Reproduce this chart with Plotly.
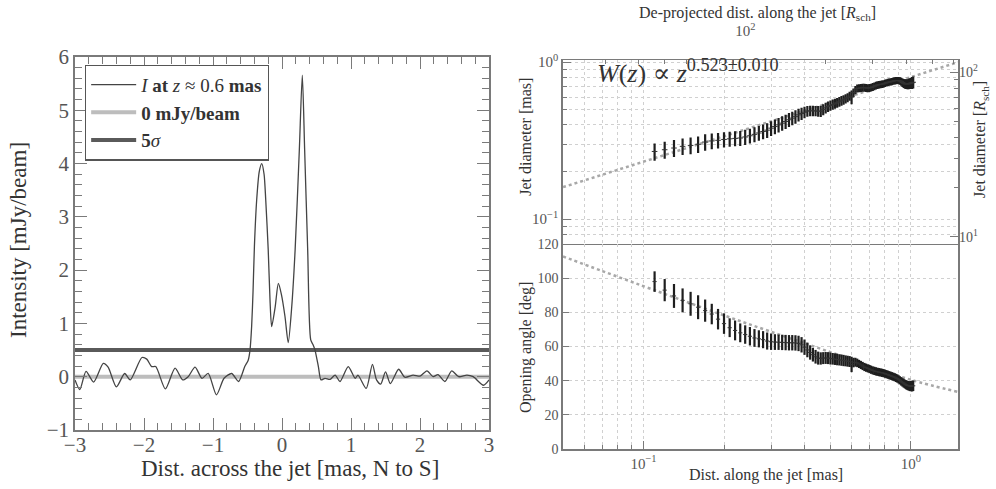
import plotly.graph_objects as go

SERIF = "Liberation Serif, DejaVu Serif, serif"

# ---------------- Left panel: intensity profile across the jet ----------------
prof_x = [-3.00, -2.93, -2.84, -2.73, -2.59, -2.52, -2.40, -2.28, -2.20, -2.03, -1.96, -1.89,
          -1.83, -1.69, -1.55, -1.44, -1.36, -1.26, -1.16, -1.07, -0.95, -0.84, -0.73, -0.63,
          -0.54, -0.49, -0.464, -0.44, -0.42, -0.40, -0.367, -0.33, -0.294, -0.26, -0.236,
          -0.20, -0.174, -0.15, -0.10, -0.053, -0.01, 0.043, 0.09, 0.14, 0.19, 0.251, 0.294,
          0.328, 0.372, 0.416, 0.45, 0.478, 0.527, 0.565, 0.623, 0.696, 0.77, 0.84, 0.96,
          1.06, 1.10, 1.22, 1.31, 1.37, 1.43, 1.50, 1.57, 1.69, 1.78, 1.90, 2.00, 2.10, 2.19,
          2.26, 2.36, 2.46, 2.56, 2.68, 2.77, 2.92, 3.00]
prof_i = [-0.06, -0.24, 0.10, -0.10, 0.25, 0.18, -0.19, 0.06, -0.06, 0.36, 0.33, 0.19,
          0.19, -0.23, 0.16, -0.06, 0.00, 0.18, -0.03, 0.06, -0.34, -0.03, 0.06, -0.09,
          0.19, 0.31, 0.50, 0.95, 1.60, 2.45, 3.32, 3.85, 4.00, 3.80, 3.32,
          2.38, 1.44, 0.94, 1.30, 1.75, 1.55, 1.13, 0.64, 1.30, 2.38, 4.26, 5.66,
          4.26, 2.38, 0.69, 0.60, 0.50, 0.19, -0.06, -0.03, -0.05, 0.03, -0.09, 0.19,
          -0.03, 0.03, -0.22, 0.23, -0.06, -0.14, 0.09, -0.13, 0.14, -0.01, 0.03, 0.01, 0.11, 0.00,
          0.04, -0.09, 0.11, 0.00, 0.03, 0.00, -0.16, -0.06]
zero_level = 0.0
five_sigma = 0.5
x_span = [-3, 3]

# ---------------- Right panels: jet width and opening angle ----------------
dist_mas = [0.11, 0.12, 0.13, 0.14, 0.15, 0.16, 0.17, 0.18, 0.19, 0.20,
            0.21, 0.22, 0.23, 0.24, 0.25, 0.26, 0.27, 0.28, 0.29, 0.30,
            0.31, 0.32, 0.33, 0.34, 0.35, 0.36, 0.37, 0.38, 0.39, 0.40,
            0.41, 0.42, 0.43, 0.44, 0.45, 0.46, 0.47, 0.48, 0.49, 0.50,
            0.51, 0.52, 0.53, 0.54, 0.55, 0.56, 0.57, 0.58, 0.59, 0.60,
            0.61, 0.62, 0.63, 0.64, 0.65, 0.66, 0.67, 0.68, 0.69, 0.70,
            0.71, 0.72, 0.73, 0.74, 0.75, 0.76, 0.77, 0.78, 0.79, 0.80,
            0.81, 0.82, 0.83, 0.84, 0.85, 0.86, 0.87, 0.88, 0.89, 0.90,
            0.91, 0.92, 0.93, 0.94, 0.95, 0.96, 0.97, 0.98, 0.99, 1.00,
            1.01, 1.02]
width_mas = [0.270, 0.277, 0.284, 0.291, 0.295, 0.300, 0.310, 0.315, 0.318, 0.322,
             0.325, 0.327, 0.329, 0.334, 0.340, 0.347, 0.354, 0.362, 0.369, 0.380,
             0.389, 0.399, 0.409, 0.419, 0.430, 0.440, 0.450, 0.462, 0.471, 0.480,
             0.488, 0.490, 0.490, 0.489, 0.488, 0.487, 0.500, 0.512, 0.522, 0.530,
             0.538, 0.545, 0.552, 0.560, 0.568, 0.576, 0.585, 0.595, 0.608, 0.600,
             0.640, 0.665, 0.680, 0.684, 0.686, 0.688, 0.688, 0.686, 0.684, 0.686,
             0.690, 0.696, 0.703, 0.710, 0.716, 0.720, 0.722, 0.724, 0.728, 0.734,
             0.740, 0.745, 0.748, 0.750, 0.754, 0.758, 0.762, 0.764, 0.765, 0.764,
             0.760, 0.752, 0.742, 0.734, 0.728, 0.726, 0.726, 0.728, 0.732, 0.736,
             0.740, 0.745]
width_err = [0.034, 0.034, 0.035, 0.035, 0.036, 0.036, 0.037, 0.036, 0.036, 0.036,
             0.036, 0.036, 0.036, 0.037, 0.037, 0.038, 0.038, 0.039, 0.040, 0.041,
             0.042, 0.042, 0.043, 0.043, 0.044, 0.044, 0.044, 0.043, 0.042, 0.040,
             0.038, 0.037, 0.037, 0.037, 0.038, 0.040, 0.040, 0.040, 0.040, 0.040,
             0.040, 0.040, 0.040, 0.040, 0.040, 0.040, 0.040, 0.040, 0.040, 0.060,
             0.040, 0.040, 0.040, 0.040, 0.040, 0.040, 0.040, 0.040, 0.040, 0.040,
             0.040, 0.040, 0.040, 0.040, 0.040, 0.040, 0.040, 0.040, 0.040, 0.040,
             0.040, 0.040, 0.040, 0.040, 0.040, 0.040, 0.040, 0.040, 0.040, 0.040,
             0.042, 0.044, 0.046, 0.048, 0.050, 0.052, 0.054, 0.056, 0.058, 0.060,
             0.064, 0.066]
angle_deg = [98.0, 93.0, 89.6, 87.0, 85.0, 83.0, 81.0, 79.0, 76.0, 73.4,
             71.0, 69.4, 68.0, 67.0, 66.0, 65.0, 64.5, 64.0, 63.2, 62.8,
             62.6, 62.5, 62.4, 62.3, 62.2, 62.2, 62.1, 61.8, 61.0, 59.6,
             58.0, 56.5, 55.2, 54.0, 53.2, 53.0, 53.2, 53.3, 53.2, 53.0,
             52.8, 52.6, 52.4, 52.2, 52.0, 51.8, 51.6, 51.4, 51.2, 49.5,
             50.6, 50.8, 50.4, 49.8, 49.2, 48.6, 48.0, 47.6, 47.2, 46.8,
             46.4, 46.0, 45.7, 45.4, 45.2, 45.0, 44.8, 44.6, 44.4, 44.1,
             43.8, 43.5, 43.2, 42.9, 42.6, 42.3, 42.0, 41.6, 41.2, 40.7,
             40.2, 39.6, 39.0, 38.5, 38.0, 37.6, 37.2, 37.0, 36.8, 36.8,
             36.8, 37.0]
angle_err = [6.0, 6.5, 7.0, 7.0, 7.0, 7.0, 6.5, 6.0, 6.0, 6.0,
             5.5, 5.8, 5.5, 5.4, 5.4, 5.2, 5.0, 5.0, 5.0, 4.8,
             4.6, 4.5, 4.5, 4.5, 4.5, 4.5, 4.5, 4.5, 4.5, 4.5,
             4.3, 4.2, 4.0, 4.0, 3.8, 3.6, 3.5, 3.5, 3.5, 3.5,
             3.4, 3.4, 3.4, 3.3, 3.3, 3.3, 3.2, 3.2, 3.2, 4.5,
             2.8, 2.6, 2.5, 2.4, 2.4, 2.4, 2.4, 2.4, 2.4, 2.4,
             2.4, 2.4, 2.4, 2.4, 2.4, 2.4, 2.4, 2.4, 2.4, 2.4,
             2.4, 2.4, 2.4, 2.4, 2.4, 2.4, 2.4, 2.4, 2.4, 2.4,
             2.4, 2.5, 2.5, 2.6, 2.6, 2.7, 2.7, 2.8, 2.9, 3.0,
             3.1, 3.1]

fit_w_x = [0.05, 1.5]
fit_w_y = [0.160, 1.0]
fit_a_x = [0.05, 0.07, 0.10, 0.13, 0.20, 0.30, 0.50, 0.70, 1.00, 1.50]
fit_a_y = [112.7, 104.2, 95.3, 88.8, 78.2, 68.6, 56.7, 48.5, 40.5, 33.4]
fit_label = "<i>W</i>(<i>z</i>) ∝ <i>z</i><sup>0.523±0.010</sup>"

log_major = [0.1, 1]
log_major_text = ["10<sup>−1</sup>", "10<sup>0</sup>"]
log_minor_x = [0.05, 0.06, 0.07, 0.08, 0.09, 0.2, 0.3, 0.4, 0.5, 0.6, 0.7, 0.8, 0.9]
log_minor_y = [0.08, 0.09, 0.2, 0.3, 0.4, 0.5, 0.6, 0.7, 0.8, 0.9]
rsch_major = [10, 100]
rsch_major_text = ["10<sup>1</sup>", "10<sup>2</sup>"]
rsch_minor = [20, 30, 40, 50, 60, 70, 80, 90, 200, 300, 400, 500, 600]
top_major = [100]
top_major_text = ["10<sup>2</sup>"]

FRAME = "#7a7a7a"
TICKC = "#555555"
GRID = "#d0d0d0"

fig = go.Figure()

# left panel
fig.add_trace(go.Scatter(x=x_span, y=[zero_level, zero_level], mode="lines",
                         line=dict(color="#bdbdbd", width=4), name="<b>0 mJy/beam</b>",
                         legendrank=2, xaxis="x", yaxis="y"))
fig.add_trace(go.Scatter(x=x_span, y=[five_sigma, five_sigma], mode="lines",
                         line=dict(color="#5a5a5a", width=4), name="<b>5</b><i>σ</i>",
                         legendrank=3, xaxis="x", yaxis="y"))
fig.add_trace(go.Scatter(x=prof_x, y=prof_i, mode="lines",
                         line=dict(color="#444444", width=1.3, shape="spline", smoothing=0.7),
                         name="<i>I</i> <b>at</b> <i>z</i> ≈ 0.6 <b>mas</b>",
                         legendrank=1, xaxis="x", yaxis="y"))

# right top panel
fig.add_trace(go.Scatter(x=fit_w_x, y=fit_w_y, mode="lines",
                         line=dict(color="#a8a8a8", width=2.5, dash="dot"),
                         showlegend=False, xaxis="x2", yaxis="y2", hoverinfo="skip"))
fig.add_trace(go.Scatter(x=dist_mas, y=width_mas, mode="markers",
                         marker=dict(symbol="line-ew", size=4, line=dict(width=1, color="#333")),
                         error_y=dict(type="data", array=width_err, color="#1e1e1e",
                                      thickness=2.2, width=0),
                         showlegend=False, xaxis="x2", yaxis="y2"))
fig.add_trace(go.Scatter(x=[100], y=[50], mode="markers", marker=dict(opacity=0),
                         showlegend=False, xaxis="x4", yaxis="y3", hoverinfo="skip"))

# right bottom panel
fig.add_trace(go.Scatter(x=fit_a_x, y=fit_a_y, mode="lines",
                         line=dict(color="#a8a8a8", width=2.5, dash="dot", shape="spline"),
                         showlegend=False, xaxis="x3", yaxis="y4", hoverinfo="skip"))
fig.add_trace(go.Scatter(x=dist_mas, y=angle_deg, mode="markers",
                         marker=dict(symbol="line-ew", size=3, line=dict(width=1, color="#333")),
                         error_y=dict(type="data", array=angle_err, color="#1e1e1e",
                                      thickness=2.2, width=0),
                         showlegend=False, xaxis="x3", yaxis="y4"))

tf_big = dict(family=SERIF, size=21, color=TICKC)

lin_common = dict(showline=True, linecolor=FRAME, linewidth=1.5, mirror="allticks",
                  ticks="inside", ticklen=12, tickwidth=1.2, tickcolor=FRAME,
                  showgrid=False, zeroline=False, tickfont=tf_big)

log_grid = dict(showgrid=True, gridcolor=GRID, griddash="dot", gridwidth=1)

fig.update_layout(
    width=996, height=489,
    margin=dict(l=0, r=0, t=0, b=0, autoexpand=False),
    paper_bgcolor="white", plot_bgcolor="rgba(0,0,0,0)",
    font=dict(family=SERIF, color="#333"),
    showlegend=True,
    legend=dict(x=0.0853, y=0.868, xanchor="left", yanchor="top",
                bordercolor="#555", borderwidth=1.2, bgcolor="white",
                font=dict(family=SERIF, size=19, color="#333"),
                itemwidth=45, tracegroupgap=0),
    xaxis=dict(domain=[0.0753, 0.491], anchor="y", range=[-3, 3], dtick=1, tick0=0,
               minor=dict(dtick=0.2, ticks="inside", ticklen=7, tickcolor=FRAME, tickwidth=1),
               ticklabelstandoff=-5, **lin_common),
    yaxis=dict(domain=[0.1207, 0.8834], anchor="x", range=[-1, 6], dtick=1, tick0=0,
               minor=dict(dtick=0.2, ticks="inside", ticklen=7, tickcolor=FRAME, tickwidth=1),
               **lin_common),
    xaxis2=dict(domain=[0.5653, 0.9618], anchor="y2", type="log", range=[-1.301, 0.176],
                tickvals=log_major, ticktext=log_major_text, showticklabels=False,
                ticks="", showline=True, linecolor=FRAME, linewidth=1.2, mirror=True,
                minor=dict(tickvals=log_minor_x, ticks="", showgrid=True, gridcolor=GRID,
                           griddash="dot"),
                zeroline=False, **log_grid),
    yaxis2=dict(domain=[0.501, 0.877], anchor="x2", type="log", range=[-1.158, 0.013],
                tickvals=log_major, ticktext=log_major_text, ticks="inside", ticklen=8,
                tickcolor=FRAME, showline=True, linecolor=FRAME, linewidth=1.5, mirror=True,
                minor=dict(tickvals=log_minor_y, ticks="inside", ticklen=4, tickcolor=FRAME,
                           showgrid=True, gridcolor=GRID, griddash="dot"),
                tickfont=dict(family=SERIF, size=15, color=TICKC), zeroline=False, **log_grid),
    yaxis3=dict(overlaying="y2", side="right", anchor="x2", type="log", range=[0.955, 2.0725],
                tickvals=rsch_major, ticktext=rsch_major_text, ticks="inside", ticklen=8,
                tickcolor=FRAME, showgrid=False, zeroline=False, ticklabelstandoff=0,
                minor=dict(tickvals=rsch_minor, ticks="inside", ticklen=4, tickcolor=FRAME),
                tickfont=dict(family=SERIF, size=14, color=TICKC)),
    xaxis4=dict(overlaying="x2", side="top", anchor="y2", type="log", range=[1.318, 2.795],
                tickvals=top_major, ticktext=top_major_text, ticks="inside", ticklen=8,
                tickcolor=FRAME, showgrid=False, zeroline=False, ticklabelstandoff=20,
                minor=dict(tickvals=rsch_minor, ticks="inside", ticklen=4, tickcolor=FRAME),
                tickfont=dict(family=SERIF, size=15, color=TICKC)),
    xaxis3=dict(domain=[0.5653, 0.9618], anchor="y4", type="log", range=[-1.301, 0.176],
                tickvals=log_major, ticktext=log_major_text, ticks="inside", ticklen=8,
                tickcolor=FRAME, showline=True, linecolor=FRAME, linewidth=1.5, mirror=False,
                minor=dict(tickvals=log_minor_x, ticks="inside", ticklen=4, tickcolor=FRAME,
                           showgrid=True, gridcolor=GRID, griddash="dot"),
                tickfont=dict(family=SERIF, size=15, color=TICKC), zeroline=False, **log_grid),
    yaxis4=dict(domain=[0.0818, 0.501], anchor="x3", range=[0, 120], dtick=20,
                ticks="inside", ticklen=6, tickcolor=FRAME, showline=True, linecolor=FRAME,
                linewidth=1.5, mirror=True, zeroline=False,
                tickfont=dict(family=SERIF, size=14, color=TICKC), **log_grid),
)

ann = [
    dict(text="Dist. across the jet [mas, N to S]", x=0.291, y=0.041, size=23, angle=0),
    dict(text="Intensity [mJy/beam]", x=0.018, y=0.509, size=23, angle=-90),
    dict(text="Dist. along the jet [mas]", x=0.769, y=0.029, size=16, angle=0),
    dict(text="Opening angle [deg]", x=0.528, y=0.29, size=16, angle=-90),
    dict(text="Jet diameter [mas]", x=0.528, y=0.72, size=16, angle=-90),
    dict(text="Jet diameter [<i>R</i><sub>sch</sub>]", x=0.985, y=0.714, size=16, angle=-90),
    dict(text="De-projected dist. along the jet [<i>R</i><sub>sch</sub>]", x=0.761, y=0.972,
         size=16, angle=0),
]
for a in ann:
    fig.add_annotation(text=a["text"], x=a["x"], y=a["y"], xref="paper", yref="paper",
                       xanchor="center", yanchor="middle", showarrow=False, textangle=a["angle"],
                       font=dict(family=SERIF, size=a["size"], color="#333"))

fig.add_annotation(text=fit_label, x=0.597, y=0.853, xref="paper", yref="paper",
                   xanchor="left", yanchor="middle", showarrow=False,
                   font=dict(family=SERIF, size=26, color="#333"))

fig.write_html("out.html", config={"displayModeBar": False},
               post_script="document.body.style.margin='0px';document.body.style.overflow='hidden';")
